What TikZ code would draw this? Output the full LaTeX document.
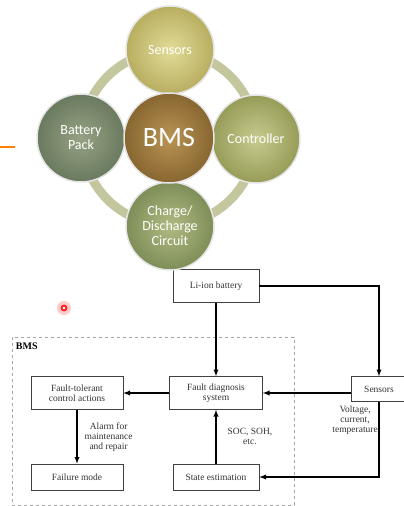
\documentclass[tikz,border=0pt]{standalone}
\usepackage{fontspec}
\setmainfont{Liberation Serif}
\newfontfamily\circfont{Carlito}
\usetikzlibrary{positioning,arrows,calc,shapes}

\definecolor{ringcol}{RGB}{196,198,158}
\definecolor{sensout}{RGB}{184,174,96}
\definecolor{sensin}{RGB}{226,220,152}
\definecolor{bmsout}{RGB}{136,102,48}
\definecolor{bmsin}{RGB}{184,148,84}
\definecolor{battout}{RGB}{106,122,94}
\definecolor{battin}{RGB}{150,162,132}
\definecolor{ctrlout}{RGB}{150,156,88}
\definecolor{ctrlin}{RGB}{200,202,142}
\definecolor{chrgout}{RGB}{126,142,88}
\definecolor{chrgin}{RGB}{176,186,130}

\tikzset{
  disc/.style={circle, minimum size=88pt, inner sep=0pt, draw=white!80!gray,
    line width=1.5pt, text=white, align=center,
    font=\circfont\fontsize{14}{15}\selectfont, shading=radial},
  blk/.style={draw=black!75, line width=0.6pt, fill=white, inner sep=1pt,
    align=center, text=black!80, font=\fontsize{9.5}{10.5}\selectfont},
  flow/.style={-latex, line width=1.3pt},
  note/.style={align=center, inner sep=1pt, text=black!80,
    font=\fontsize{9.5}{10}\selectfont}
}

\begin{document}
\begin{tikzpicture}[x=1pt,y=-1pt]
  \useasboundingbox (0,0) rectangle (404,506);

  % BMS frame
  \node[draw=gray!70, dashed, line width=0.6pt, minimum width=282pt,
        minimum height=168pt, inner sep=0pt] (frame) at (153,421) {};
  \node[anchor=north west, font=\bfseries\fontsize{10}{11}\selectfont, inner sep=0pt]
        (bmslbl) at ([xshift=4pt,yshift=-6pt]frame.north west) {BMS};

  % blocks
  \node[blk, minimum width=86pt, minimum height=33pt] (lib) at (216,286) {Li-ion battery};
  \node[blk, minimum width=93pt, minimum height=33pt] (fds) at (216,393) {Fault diagnosis\\system};
  \node[blk, minimum width=92pt, minimum height=33pt] (ftc) at (77,393) {Fault-tolerant\\control actions};
  \node[blk, minimum width=92pt, minimum height=26pt] (fail) at (77,477) {Failure mode};
  \node[blk, minimum width=86pt, minimum height=26pt] (est) at (216,477) {State estimation};
  \node[blk, minimum width=56pt, minimum height=25pt] (sen) at (379,389) {Sensors};

  % connectors
  \draw[flow] (lib) -- (fds);
  \draw[flow] (lib.east) -| (sen.north);
  \draw[flow] (sen.west |- fds.east) -- (fds.east);
  \draw[flow] (fds) -- (ftc);
  \draw[flow] (ftc) -- node[note, right=6pt] {Alarm for\\maintenance\\and repair} (fail);
  \draw[flow] (est) -- node[note, right=10pt] {SOC, SOH,\\etc.} (fds);
  \draw[flow] (sen.south) |- (est.east);
  \node[note, anchor=north east] (volt) at ([xshift=0pt,yshift=-3pt]sen.south) {Voltage,\\current,\\temperature};

  % ring behind the circles
  \draw[ringcol, line width=9pt] (169,138) circle [radius=87pt];

  % the circles
  \node[disc, inner color=sensin, outer color=sensout] (sens) at (170,50) {Sensors};
  \node[disc, inner color=chrgin, outer color=chrgout] (chrg) at (170,226) {Charge/\\Discharge\\Circuit};
  \node[disc, inner color=battin, outer color=battout] (batt) at (81,138) {Battery\\Pack};
  \node[disc, inner color=ctrlin, outer color=ctrlout] (ctrl) at (256,139) {Controller};
  \node[disc, minimum size=90pt, inner color=bmsin, outer color=bmsout,
        font=\circfont\fontsize{28}{30}\selectfont] (bms) at (169,138) {BMS};

  % orange mark and pointer dot
  \draw[orange, line width=1.5pt] (0,147) -- (15,147);
  \fill[red!20] (64,308) circle [radius=7pt];
  \fill[red!85!white] (64,308) circle [radius=3.5pt];
  \fill[white] (64,308) circle [radius=1.3pt];
\end{tikzpicture}
\end{document}
